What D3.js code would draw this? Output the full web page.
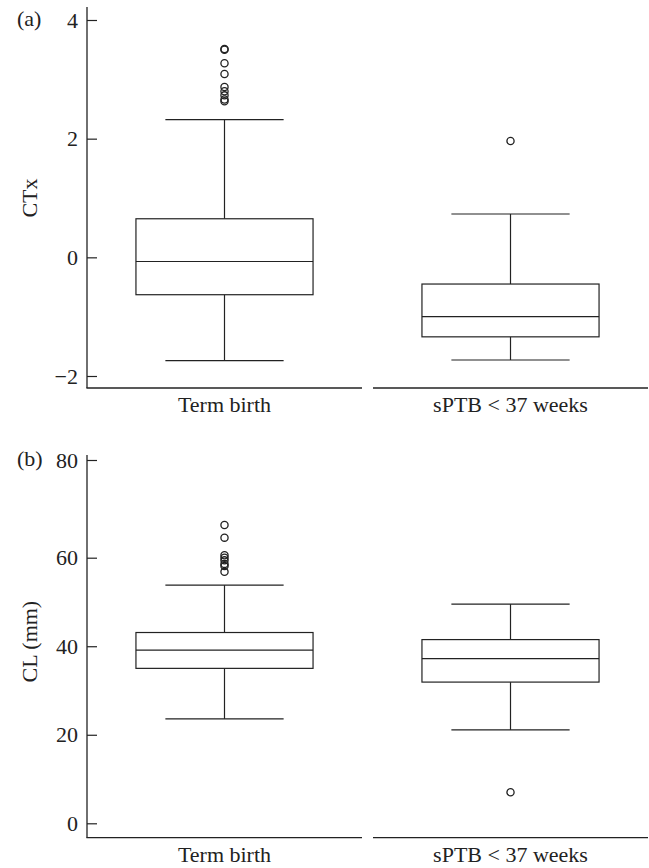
<!DOCTYPE html>
<html>
<head>
<meta charset="utf-8">
<script src="https://cdn.jsdelivr.net/npm/d3@7"></script>
<style>
  body { margin: 0; background: #fff; }
  text { font-family: 'Liberation Serif', 'DejaVu Serif', serif; fill: #222; }
</style>
</head>
<body>
<div id="container"></div>
<script>
const groups = ['Term birth', 'sPTB < 37 weeks'];

// [lower whisker, Q1, median, Q3, upper whisker]
const ctxStats = [
  [-1.74, -0.63, -0.07, 0.65, 2.32],
  [-1.73, -1.34, -1.0, -0.45, 0.73],
];
const ctxOutliers = [
  [3.51, 3.5, 3.27, 3.09, 2.87, 2.8, 2.73, 2.66, 2.63],
  [1.96],
];
const ctxTicks = [-2, 0, 2, 4];

const clStats = [
  [23.6, 35.0, 39.1, 43.1, 53.8],
  [21.1, 31.9, 37.2, 41.5, 49.5],
];
const clOutliers = [
  [66.7, 64.1, 60.5, 60.0, 59.4, 58.6, 58.1, 56.8],
  [7.0],
];
const clTicks = [0, 20, 40, 60, 80];

const width = 649;
const height = 868;
const stroke = '#222';
const fontSize = '22px';

const svg = d3
  .select('#container')
  .append('svg')
  .attr('width', width)
  .attr('height', height);

const x = d3
  .scaleBand()
  .domain(groups)
  .range([87, 648])
  .paddingInner(0.0385)
  .paddingOuter(0);

function panel(opts) {
  // the printed top tick of panel (b) sits a little higher than the others
  const y = d3.scaleLinear().domain(opts.domain).range(opts.range);
  const g = svg.append('g');
  const base = opts.base;
  const top = opts.top;

  // y axis
  const axis = d3
    .axisLeft(y)
    .tickValues(opts.ticks)
    .tickSizeInner(-10)
    .tickSizeOuter(0)
    .tickPadding(9)
    .tickFormat(d => (d < 0 ? '\u2212' + Math.abs(d) : d));
  const ag = g.append('g').attr('transform', 'translate(87,0)').call(axis);
  ag.select('.domain').remove();
  ag.selectAll('line').attr('stroke', stroke).attr('stroke-width', 1.2);
  ag.selectAll('text')
    .attr('font-size', fontSize)
    .attr('fill', '#222')
    .style('font-family', "'Liberation Serif', serif");

  g.append('line')
    .attr('x1', 87).attr('x2', 87)
    .attr('y1', top).attr('y2', base)
    .attr('stroke', stroke).attr('stroke-width', 1.3);

  // x axis segments + labels
  groups.forEach(name => {
    g.append('line')
      .attr('x1', name === groups[0] ? 86.4 : x(name))
      .attr('x2', x(name) + x.bandwidth())
      .attr('y1', base).attr('y2', base)
      .attr('stroke', stroke).attr('stroke-width', 1.3);
    g.append('text')
      .attr('x', x(name) + x.bandwidth() / 2)
      .attr('y', base + 24)
      .attr('text-anchor', 'middle')
      .attr('font-size', fontSize)
      .text(name);
  });

  // panel tag and y title
  const yTop = y(opts.ticks[opts.ticks.length - 1]);
  g.append('text')
    .attr('x', 17)
    .attr('y', yTop + 6)
    .attr('font-size', fontSize)
    .text(opts.tag);

  const mid = (y(opts.ticks[0]) + yTop) / 2;
  g.append('text')
    .attr('transform', `translate(37,${mid}) rotate(-90)`)
    .attr('text-anchor', 'middle')
    .attr('font-size', fontSize)
    .text(opts.title);

  // boxes
  const bw = x.bandwidth();
  const boxW = bw * 0.644;
  const capW = bw * 0.43;

  opts.stats.forEach((s, i) => {
    const cx = x(groups[i]) + bw / 2;
    const bg = g.append('g').attr('stroke', stroke).attr('stroke-width', 1.2).attr('fill', 'none');

    // whiskers
    bg.append('line').attr('x1', cx).attr('x2', cx).attr('y1', y(s[0])).attr('y2', y(s[1]));
    bg.append('line').attr('x1', cx).attr('x2', cx).attr('y1', y(s[3])).attr('y2', y(s[4]));
    bg.append('line').attr('x1', cx - capW / 2).attr('x2', cx + capW / 2).attr('y1', y(s[0])).attr('y2', y(s[0]));
    bg.append('line').attr('x1', cx - capW / 2).attr('x2', cx + capW / 2).attr('y1', y(s[4])).attr('y2', y(s[4]));

    bg.append('rect')
      .attr('x', cx - boxW / 2)
      .attr('y', y(s[3]))
      .attr('width', boxW)
      .attr('height', y(s[1]) - y(s[3]))
      .attr('fill', '#fff');
    bg.append('line')
      .attr('x1', cx - boxW / 2).attr('x2', cx + boxW / 2)
      .attr('y1', y(s[2])).attr('y2', y(s[2]));

    bg.selectAll('circle')
      .data(opts.outliers[i])
      .enter()
      .append('circle')
      .attr('cx', cx)
      .attr('cy', d => y(d))
      .attr('r', 3.6)
      .attr('stroke-width', 1.3);
  });
}

panel({
  domain: [-2, 4],
  range: [376, 20],
  top: 7,
  base: 388,
  ticks: ctxTicks,
  stats: ctxStats,
  outliers: ctxOutliers,
  tag: '(a)',
  title: 'CTx',
});

panel({
  domain: [0, 60, 80],
  range: [823.3, 557.7, 460],
  top: 455,
  base: 837.7,
  ticks: clTicks,
  stats: clStats,
  outliers: clOutliers,
  tag: '(b)',
  title: 'CL (mm)',
});
</script>
</body>
</html>
